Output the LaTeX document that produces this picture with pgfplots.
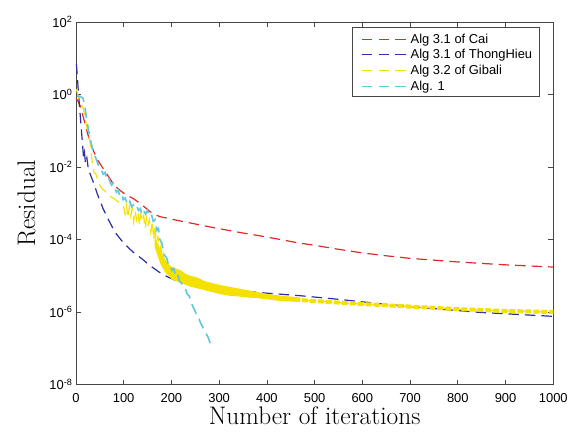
\documentclass[border=0pt]{standalone}
\usepackage{pgfplots}
\pgfplotsset{compat=1.18}
\usepackage{fontspec}
\newfontfamily\hel{Liberation Sans}

\definecolor{cred}{RGB}{228,40,40}
\definecolor{cblue}{RGB}{45,45,165}
\definecolor{cyel}{RGB}{245,225,0}
\definecolor{ccyan}{RGB}{95,200,222}
\definecolor{axgray}{RGB}{70,70,70}

\begin{document}
\begin{tikzpicture}
\begin{axis}[
    scale only axis,
    width=478bp, height=363bp,
    ymode=log,
    xmin=0, xmax=1000,
    ymin=1e-8, ymax=1e2,
    xtick={0,100,...,1000},
    xticklabels={0,100,200,300,400,500,600,700,800,900,1000},
    ytick={1e-8,1e-6,1e-4,1e-2,1,1e2},
    yticklabels={10\textsuperscript{-8},10\textsuperscript{-6},10\textsuperscript{-4},10\textsuperscript{-2},10\textsuperscript{0},10\textsuperscript{2}},
    minor tick num=0,
    ticklabel style={font=\hel\fontsize{13}{15}\selectfont},
    xticklabel style={yshift=-5bp},
    major tick length=5bp,
    axis line style={axgray, line width=0.7bp},
    every tick/.style={axgray, line width=0.7bp},
    xlabel={Number of iterations},
    ylabel={Residual},
    label style={font=\fontsize{25.5}{28}\selectfont},
    ylabel shift=7bp,
    xlabel shift=-2bp,
    every axis plot/.append style={line width=1.2bp, dash pattern=on 10.5bp off 6bp},
]
% Alg 3.1 of Cai
\addplot[cred] coordinates {
(0,0.794)(5,0.631)(10,0.447)(15,0.251)(20,0.141)(25,0.794e-1)(30,0.501e-1)
(35,0.316e-1)(40,0.224e-1)(45,0.158e-1)(50,0.126e-1)(55,1e-2)(60,0.794e-2)
(70,0.501e-2)(80,0.316e-2)(90,0.240e-2)(100,0.191e-2)(110,0.158e-2)(120,0.135e-2)
(134,1e-3)(148,0.708e-3)(160,0.525e-3)(176,0.427e-3)(204,0.355e-3)(238,0.288e-3)
(287,0.214e-3)(350,0.151e-3)(400,0.117e-3)(469,0.794e-4)(500,0.692e-4)(550,0.537e-4)
(600,0.427e-4)(650,0.355e-4)(700,0.302e-4)(750,0.269e-4)(800,0.240e-4)(850,0.219e-4)
(900,0.200e-4)(950,0.186e-4)(1000,0.174e-4)
};
% Alg 3.1 of ThongHieu
\addplot[cblue] coordinates {
(1,7.08)(3,3.16)(5,1.26)(8,0.398)(11,0.126)(14,0.398e-1)(16,0.178e-1)(18,0.251e-1)
(20,0.126e-1)(23,0.178e-1)(26,0.891e-2)(30,0.631e-2)(36,0.398e-2)(45,0.178e-2)
(57,0.708e-3)(70,0.316e-3)(82,0.158e-3)(100,0.794e-4)(120,0.447e-4)(140,0.282e-4)
(155,0.191e-4)(180,0.112e-4)(200,0.832e-5)(218,0.661e-5)(250,0.525e-5)(295,0.447e-5)
(350,0.380e-5)(400,0.331e-5)(469,0.282e-5)(550,0.224e-5)(636,0.170e-5)(700,0.141e-5)
(845,0.977e-6)(1000,0.759e-6)
};
% Alg 3.2 of Gibali
\addplot[cyel] coordinates {
(1,1.41)(4,1.0)(8,0.631)(12,0.501)(16,0.398)(20,0.200)(23,0.126)(26,0.794e-1)
(29,0.562e-1)(32,0.251e-1)(35,0.112e-1)(38,0.708e-2)(42,0.631e-2)(46,0.447e-2)
(50,0.316e-2)(55,0.251e-2)(60,0.224e-2)(70,0.158e-2)(80,0.135e-2)(92,1e-3)
(100,0.794e-3)(103,0.501e-3)(106,0.891e-3)(109,0.398e-3)(112,0.794e-3)(115,0.447e-3)
(118,0.708e-3)(121,0.316e-3)(124,0.631e-3)(127,0.355e-3)(130,0.562e-3)(133,0.251e-3)
(136,0.501e-3)(139,0.316e-3)(142,0.447e-3)(145,0.200e-3)(148,0.398e-3)(151,0.251e-3)
(154,0.355e-3)(157,0.158e-3)(160,0.316e-3)(163,1e-4)(166,0.251e-3)(169,0.501e-4)
(172,0.126e-3)(175,0.316e-4)(178,0.631e-4)(181,0.251e-4)(184,0.398e-4)(187,0.158e-4)
(190,0.251e-4)(200,0.126e-4)(250,0.708e-5)(300,0.447e-5)(400,0.269e-5)(440,0.229e-5)
(500,0.200e-5)(600,0.166e-5)(700,0.141e-5)(800,0.120e-5)(900,0.107e-5)(1000,1e-6)
};
\addplot[draw=none, fill=cyel, solid] coordinates {
(165,0.126e-3)(170,0.891e-4)(175,0.631e-4)(180,0.447e-4)(185,0.316e-4)(190,0.251e-4)
(195,0.200e-4)(200,0.178e-4)(210,0.158e-4)(220,0.141e-4)(230,0.112e-4)(240,1e-5)
(255,0.891e-5)(270,0.708e-5)(285,0.631e-5)(300,0.562e-5)(320,0.501e-5)(340,0.447e-5)
(360,0.398e-5)(380,0.355e-5)(400,0.316e-5)(430,0.282e-5)(470,0.251e-5)
(470,0.191e-5)(430,0.200e-5)(400,0.224e-5)(380,0.240e-5)(360,0.251e-5)(340,0.269e-5)
(320,0.282e-5)(300,0.316e-5)(285,0.355e-5)(270,0.398e-5)(255,0.447e-5)(240,0.501e-5)
(230,0.562e-5)(220,0.631e-5)(210,0.708e-5)(200,0.794e-5)(195,1e-5)(190,0.112e-4)
(185,0.141e-4)(180,0.178e-4)(175,0.251e-4)(170,0.398e-4)(165,0.631e-4)
};
\addplot[cyel, line width=4bp, dash pattern=on 6bp off 2bp] coordinates {
(440,0.229e-5)(500,0.200e-5)(600,0.166e-5)(700,0.141e-5)(800,0.120e-5)(900,0.107e-5)(1000,1e-6)
};
% Alg. 1
\addplot[ccyan, line width=1.6bp] coordinates {
(2,0.891)(8,0.891)(15,0.794)(19,0.447)(22,0.224)(26,0.112)(29,0.708e-1)(33,0.398e-1)
(36,0.251e-1)(40,0.200e-1)(43,0.158e-1)(47,0.112e-1)(50,1e-2)(54,0.794e-2)(57,0.631e-2)
(61,0.708e-2)(64,0.501e-2)(68,0.562e-2)(71,0.398e-2)(75,0.316e-2)(78,0.355e-2)
(82,0.251e-2)(85,0.200e-2)(89,0.224e-2)(92,0.158e-2)(96,0.178e-2)(99,0.126e-2)
(103,0.141e-2)(106,0.112e-2)(110,0.891e-3)(113,0.112e-2)(117,0.794e-3)(120,0.891e-3)
(124,0.708e-3)(128,0.794e-3)(131,0.631e-3)(135,0.708e-3)(138,0.501e-3)(142,0.631e-3)
(146,0.501e-3)(150,0.631e-3)(154,0.447e-3)(158,0.501e-3)(162,0.316e-3)(166,0.355e-3)
(170,0.178e-3)(173,0.200e-3)(176,1e-4)(180,0.794e-4)(183,0.501e-4)(186,0.355e-4)
(190,0.316e-4)(194,0.200e-4)(197,0.200e-4)(201,0.141e-4)(205,0.158e-4)(209,1e-5)
(213,0.112e-4)(217,0.708e-5)(221,0.631e-5)(225,0.501e-5)(229,0.447e-5)(233,0.316e-5)
(237,0.282e-5)(241,0.200e-5)(245,0.141e-5)(249,0.112e-5)(253,0.794e-6)(257,0.708e-6)
(261,0.501e-6)(265,0.398e-6)(269,0.316e-6)(273,0.251e-6)(277,0.200e-6)(281,0.141e-6)
(285,0.112e-6)
};
\end{axis}
% legend, drawn by hand: each sample is three filled dashes
\begin{scope}[shift={(current axis.south west)}, x=1bp, y=1bp]
  \foreach \c/\y in {cred/345.5, cblue/330.5, cyel/314.5, ccyan/298.5}{
    \foreach \x in {286,303,320}{
      \fill[fill=\c] (\x,\y-0.65) rectangle (\x+10.5,\y+0.65);
    }
  }
  \begin{scope}[every node/.style={anchor=base west, inner sep=0pt, font=\hel\fontsize{13}{15}\selectfont}]
    \node at (335,341) {Alg 3.1 of Cai};
    \node at (335,326) {Alg 3.1 of ThongHieu};
    \node at (335,310) {Alg 3.2 of Gibali};
    \node at (335,294) {Alg. 1};
  \end{scope}
  \draw[draw=axgray, line width=0.7bp] (277,289) rectangle (464,358);
\end{scope}
\path ([xshift=-76bp,yshift=-50bp]current axis.south west) rectangle ([xshift=17bp,yshift=22bp]current axis.north east);
\end{tikzpicture}
\end{document}
